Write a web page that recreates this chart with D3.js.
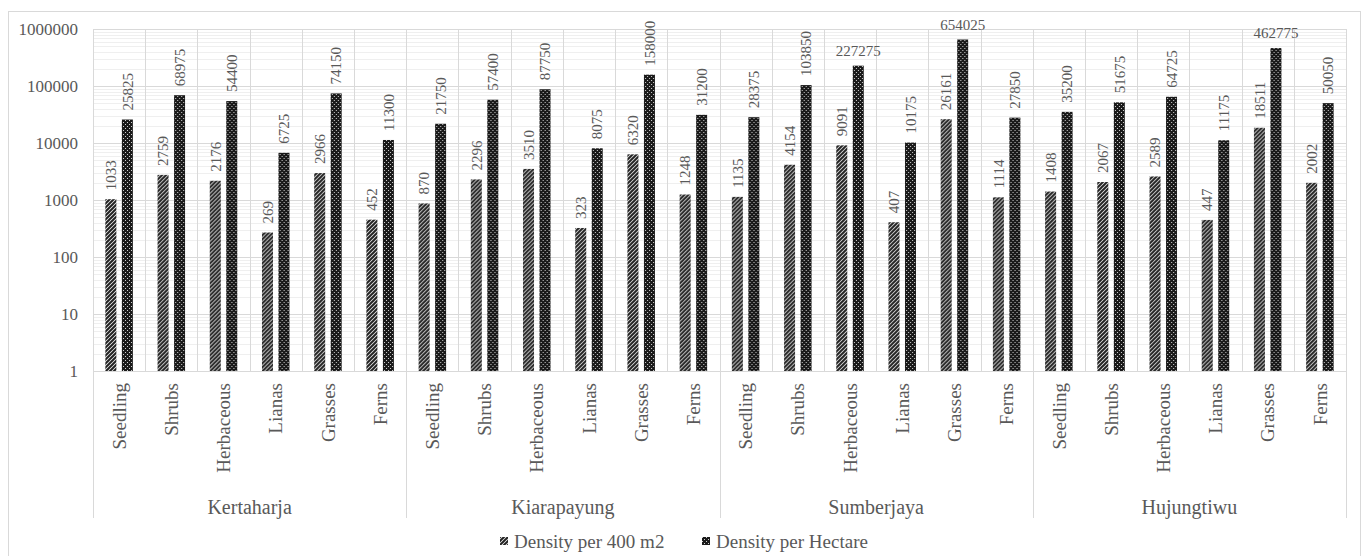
<!DOCTYPE html>
<html>
<head>
<meta charset="utf-8">
<script src="https://cdn.jsdelivr.net/npm/d3@7"></script>
<style>
  html, body { margin: 0; padding: 0; background: #fff; }
  svg { display: block; }
  svg text { font-family: "Liberation Serif", "Times New Roman", serif; }
</style>
</head>
<body>
<svg id="chart" width="1364" height="556"></svg>
<script>
// Plant density by life form at four sites (log scale)
const sites = ["Kertaharja", "Kiarapayung", "Sumberjaya", "Hujungtiwu"];
const lifeForms = ["Seedling", "Shrubs", "Herbaceous", "Lianas", "Grasses", "Ferns"];
const seriesNames = ["Density per 400 m2", "Density per Hectare"];

const densityPer400m2 = [
  [1033, 2759, 2176, 269, 2966, 452],
  [870, 2296, 3510, 323, 6320, 1248],
  [1135, 4154, 9091, 407, 26161, 1114],
  [1408, 2067, 2589, 447, 18511, 2002]
];
const densityPerHectare = [
  [25825, 68975, 54400, 6725, 74150, 11300],
  [21750, 57400, 87750, 8075, 158000, 31200],
  [28375, 103850, 227275, 10175, 654025, 27850],
  [35200, 51675, 64725, 11175, 462775, 50050]
];
const yTickValues = [1, 10, 100, 1000, 10000, 100000, 1000000];

// flat rows: one per site × life form
const rows = [];
sites.forEach((s, i) => lifeForms.forEach((f, j) => {
  rows.push({ key: s + "|" + f, site: s, form: f,
    values: [densityPer400m2[i][j], densityPerHectare[i][j]] });
}));

const svg = d3.select("#chart");
const plot = { left: 93, right: 1346, top: 29, bottom: 371 };
const labelBottom = 518;
const textColor = "#595959";

// fill patterns
const defs = svg.append("defs");
const hatch = defs.append("pattern").attr("id", "hatch")
  .attr("patternUnits", "userSpaceOnUse").attr("width", 4).attr("height", 4);
hatch.append("rect").attr("width", 4).attr("height", 4).attr("fill", "#f4f4f4");
hatch.append("path").attr("d", "M-1,1 l2,-2 M0,4 l4,-4 M3,5 l2,-2")
  .attr("stroke", "#222").attr("stroke-width", 2);
const dots = defs.append("pattern").attr("id", "dots")
  .attr("patternUnits", "userSpaceOnUse").attr("width", 4).attr("height", 4);
dots.append("rect").attr("width", 4).attr("height", 4).attr("fill", "#1a1a1a");
dots.append("rect").attr("x", 0).attr("y", 0).attr("width", 1).attr("height", 1).attr("fill", "#d0d0d0");
dots.append("rect").attr("x", 2).attr("y", 2).attr("width", 1).attr("height", 1).attr("fill", "#d0d0d0");
const fills = ["url(#hatch)", "url(#dots)"];

// chart area border
svg.append("rect").attr("x", 8.5).attr("y", 11.5).attr("width", 1352).attr("height", 560)
  .attr("fill", "none").attr("stroke", "#d9d9d9");

const x = d3.scaleBand().domain(rows.map(r => r.key))
  .range([plot.left, plot.right]).padding(0);
const w = x.bandwidth();
const x1 = d3.scaleBand().domain([0, 1])
  .range([w / 2 - 13.75, w / 2 + 13.75]).paddingInner(1 / 3).paddingOuter(0);
const y = d3.scaleLog().domain([1, 1e6]).range([plot.bottom, plot.top]);

// minor gridlines
const minor = y.ticks().filter(v => !yTickValues.includes(v));
svg.append("g").selectAll("line").data(minor).join("line")
  .attr("x1", plot.left).attr("x2", plot.right)
  .attr("y1", d => Math.round(y(d)) + 0.5).attr("y2", d => Math.round(y(d)) + 0.5)
  .attr("stroke", "#efefef");
// major gridlines
svg.append("g").selectAll("line").data(yTickValues).join("line")
  .attr("x1", plot.left).attr("x2", plot.right)
  .attr("y1", d => Math.round(y(d)) + 0.5).attr("y2", d => Math.round(y(d)) + 0.5)
  .attr("stroke", "#d9d9d9");

// vertical category lines; site boundaries run down through the labels
const edges = d3.range(rows.length + 1);
svg.append("g").selectAll("line").data(edges).join("line")
  .attr("x1", i => Math.round(plot.left + i * w) + 0.5)
  .attr("x2", i => Math.round(plot.left + i * w) + 0.5)
  .attr("y1", plot.top)
  .attr("y2", i => i % lifeForms.length === 0 ? labelBottom : plot.bottom)
  .attr("stroke", "#d9d9d9");

// y axis
const yAxis = svg.append("g").attr("transform", `translate(${plot.left - 15},0)`)
  .call(d3.axisLeft(y).tickValues(yTickValues).tickSize(0).tickPadding(0).tickFormat(d3.format("d")));
yAxis.attr("font-family", null);
yAxis.select(".domain").remove();
yAxis.selectAll("text").attr("font-size", 17).attr("fill", textColor);

// bars
const groups = svg.append("g").selectAll("g").data(rows).join("g")
  .attr("transform", d => `translate(${x(d.key)},0)`);
groups.selectAll("rect").data(d => d.values.map((v, i) => ({ v, i }))).join("rect")
  .attr("x", d => x1(d.i))
  .attr("width", x1.bandwidth())
  .attr("y", d => y(d.v))
  .attr("height", d => y(1) - y(d.v))
  .attr("fill", d => fills[d.i]);

// value labels: rotated above the bar, horizontal for the tallest bars
groups.selectAll("text").data(d => d.values.map((v, i) => ({ v, i }))).join("text")
  .attr("font-size", 15).attr("fill", textColor)
  .each(function (d) {
    const cx = x1(d.i) + x1.bandwidth() / 2;
    const top = y(d.v);
    const t = d3.select(this).text(d.v);
    if (d.v > 200000) {
      t.attr("x", cx).attr("y", top - 15).attr("dy", "0.35em").attr("text-anchor", "middle");
    } else {
      t.attr("text-anchor", "start").attr("dy", "0.35em")
        .attr("transform", `translate(${cx},${top - 9}) rotate(-90)`);
    }
  });

// life form labels
svg.append("g").selectAll("text").data(rows).join("text")
  .attr("transform", d => `translate(${x(d.key) + w / 2},${plot.bottom + 12}) rotate(-90)`)
  .attr("text-anchor", "end").attr("dy", "0.35em")
  .attr("font-size", 19).attr("fill", textColor)
  .text(d => d.form);

// site labels
svg.append("g").selectAll("text").data(sites).join("text")
  .attr("x", (s, i) => plot.left + (i + 0.5) * lifeForms.length * w)
  .attr("y", 507).attr("dy", "0.35em").attr("text-anchor", "middle")
  .attr("font-size", 20).attr("fill", textColor)
  .text(s => s);

// legend
const legendX = [500, 702];
const legend = svg.append("g").selectAll("g").data(seriesNames).join("g")
  .attr("transform", (d, i) => `translate(${legendX[i]},541)`);
legend.append("rect").attr("x", 0).attr("y", -4).attr("width", 8).attr("height", 8)
  .attr("fill", (d, i) => fills[i]);
legend.append("text").attr("x", 14).attr("dy", "0.35em")
  .attr("font-size", 19).attr("fill", textColor).text(d => d);
</script>
</body>
</html>
